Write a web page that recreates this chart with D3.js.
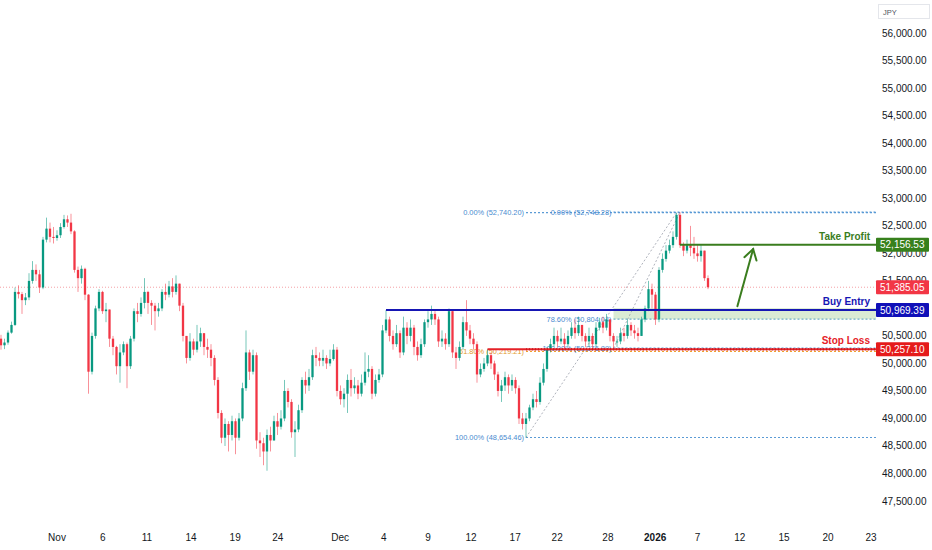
<!DOCTYPE html>
<html><head><meta charset="utf-8">
<script src="https://cdn.jsdelivr.net/npm/d3@7"></script>
<style>body{margin:0;background:#fff;} svg{display:block;font-family:"Liberation Sans",Arial,sans-serif;}</style>
</head><body><svg id="c" width="932" height="550"></svg>
<script>
// ---------- DATA ----------
const firstOpen = 50450;
const closes = [50330,50380,50560,50700,51300,51260,51150,51200,51500,51700,
51620,51380,52250,52450,52300,52280,52330,52480,52620,52560,
52400,51700,51550,51720,51250,49850,50500,51000,51300,50950,
50980,50450,50300,49950,50200,50350,49950,50450,50950,50900,
51100,51300,51100,51050,50950,51000,51300,51250,51400,51300,
51450,51050,50500,50100,50400,50250,50400,50550,50300,50250,
50100,49700,49100,48650,48900,48700,48950,48650,49000,49550,
50200,49850,50150,48600,48550,48400,48700,48600,48950,48850,
49000,49500,49300,48750,48800,49150,49700,49600,49750,50150,
50100,50050,50100,50000,50080,50250,49500,49350,49450,49700,
49550,49600,49450,49650,49850,49900,49450,49700,49800,50600,
50800,50500,50350,50550,50200,50650,50500,50650,50300,50150,
50350,50750,50800,50900,50800,50400,50450,50350,50950,50200,
50100,50300,50750,50600,50450,50350,49800,49900,50000,50150,
50000,49800,49500,49600,49750,49600,49700,49550,49000,48900,
49000,49200,49350,49300,49650,49900,50250,50350,50500,50400,
50450,50350,50500,50650,50550,50700,50500,50400,50500,50350,
50650,50750,50650,50800,50500,50400,50400,50550,50500,50700,
50600,50550,50500,50800,51000,51350,51250,50800,51700,51900,
52050,52150,52300,52700,52150,52050,52150,52100,52000,51950,
52050,51550,51385.05];
const highs = [50520,50450,50600,50760,51380,51420,51300,51280,51640,51860,
51800,51700,52300,52650,52560,52480,52420,52550,52700,52690,
52720,52420,51760,51780,51740,51260,50560,51050,51350,51320,
51100,50980,50500,50320,50350,50400,50380,50500,51000,51100,
51200,51550,51320,51150,51100,51100,51350,51450,51500,51550,
51600,51450,51100,50500,50550,50450,50700,50650,50550,50450,
50350,50150,49750,49150,49000,48950,49050,49000,49100,49650,
50600,50250,50250,50200,48750,48650,48800,48850,49050,49100,
49150,49700,49550,49350,48950,49250,49750,49850,49900,50250,
50300,50200,50250,50150,50250,50350,50300,49600,49550,49800,
49900,49750,49700,49800,50200,50150,49950,49800,49900,50700,
50969.39,50850,50600,50700,50600,50850,50750,50800,50700,50400,
50450,50800,50950,51050,50950,50850,50600,50550,51000,50950,
50300,50400,50850,51150,50700,50550,50400,50000,50100,50257.10,
50200,50050,49850,49700,49850,49800,49800,49750,49600,49100,
49100,49250,49450,49500,49750,50000,50300,50450,50650,50600,
50650,50550,50600,50750,50800,50850,50700,50550,50650,50550,
50750,50830,50850,50900,50800,50550,50500,50650,50650,50800,
50750,50700,50650,50850,51050,51500,51450,51300,51750,52000,
52150,52250,52400,52740.20,52748.28,52200,52250,52500,52300,52150,
52150,52050,51600];
const lows = [50250,50260,50340,50540,50680,51180,50900,51060,51150,51450,
51500,51280,51350,52200,52200,52180,52230,52280,52450,52480,
52350,51650,51300,51450,51150,49450,49800,50450,50950,50900,
50750,50300,50150,49800,49650,50150,49550,49900,50400,50750,
50850,51000,50900,50700,50600,50850,50950,51150,51200,51200,
51250,50950,50400,50000,50050,50150,50200,50300,50150,50100,
49950,49600,49000,48550,48500,48400,48600,48350,48600,48950,
49500,49700,49800,48450,48300,48150,48050,48400,48600,48700,
48800,48950,49200,48650,48300,48750,49100,49450,49500,49700,
49950,49950,49950,49900,49950,50050,49400,49250,49200,49100,
49400,49450,49350,49400,49600,49750,49350,49400,49650,49750,
50550,50400,50250,50300,50100,50150,50350,50400,50150,50050,
50100,50300,50650,50700,50700,50300,50300,50250,50300,50100,
49900,50050,50250,50500,50350,50250,49650,49750,49850,49950,
49900,49700,49400,49300,49500,49450,49500,49450,48900,48800,
48654.46,48950,49150,49200,49250,49600,49850,50200,50300,50300,
50350,50250,50300,50450,50450,50500,50400,50300,50300,50250,
50300,50600,50550,50600,50400,50276.89,50300,50350,50400,50450,
50500,50450,50400,50500,50750,50950,51000,50700,50750,51650,
51850,52000,52100,52250,52100,51950,52000,51950,51900,51850,
51850,51500,51350];

const xTickLabels = ["Nov","6","11","14","19","24","Dec","4","9","12","17","22","28","2026","7","12","15","20","23"];
const xTickIdx = [16,29.1,41.7,54.3,66.9,79.1,96.9,109.4,122,134.3,146.9,158.9,173.4,186.9,199,211.1,223.7,236.3,248.6];
const yTicks = [47500,48000,48500,49000,49500,50000,50500,51000,51500,52000,52500,53000,53500,54000,54500,55000,55500,56000];

const levelNames = ["Take Profit","Buy Entry","Stop Loss"];
const levelValues = [52156.53, 50969.39, 50257.10];
const levelStartIdx = [194, 110, 139];
const lastPrice = 51385.05;

const fib1Idx = [150, 193];
const fib1Labels = ["0.00%","61.80%","100.00%"];
const fib1Prices = [52740.20, 50219.21, 48654.46];
const fib2Idx = [175, 194];
const fib2Labels = ["0.00%","78.60%","100.00%"];
const fib2Prices = [52748.28, 50804.04, 50276.89];
const fib2Band = [51005.9, 50804.04];

const arrowIdx = [210.4, 214.9];
const arrowPrices = [51040, 52080];

// ---------- DRAW ----------
const svg = d3.select("#c");
const plotRight = 876;
const x = d3.scaleLinear().domain([0, 250]).range([1, plotRight]);
const y = d3.scaleLinear().domain([47500, 56000]).range([501, 33.3]);
const fmt = d3.format(",.2f");

const data = closes.map((c, i) => {
  const o = i === 0 ? firstOpen : closes[i - 1];
  return {i, o, c, h: Math.max(highs[i], o, c), l: Math.min(lows[i], o, c)};
});

const GREEN = "#089981", RED = "#f23645";
const FIBBLUE = "#5b9bd5";

// fib band
svg.append("rect")
  .attr("x", x(fib2Idx[0])).attr("width", plotRight - x(fib2Idx[0]))
  .attr("y", y(fib2Band[0])).attr("height", y(fib2Band[1]) - y(fib2Band[0]))
  .attr("fill", "#d4e8cc").attr("opacity", 0.85);

// fib lines
const fibG = svg.append("g");
function fibLines(idx, prices, colors) {
  prices.forEach((p, k) => {
    fibG.append("line")
      .attr("x1", x(idx[0])).attr("x2", plotRight)
      .attr("y1", y(p)).attr("y2", y(p))
      .attr("stroke", colors[k]).attr("stroke-width", 1.2)
      .attr("stroke-dasharray", "2,2");
  });
  fibG.append("line")
    .attr("x1", x(idx[0])).attr("y1", y(prices[prices.length - 1]))
    .attr("x2", x(idx[1])).attr("y2", y(prices[0]))
    .attr("stroke", "#9aa0ab").attr("stroke-width", 0.8)
    .attr("stroke-dasharray", "2,2");
}
fibLines(fib1Idx, fib1Prices, [FIBBLUE, "#f0a030", FIBBLUE]);
fibLines(fib2Idx, fib2Prices, [FIBBLUE, "#6fb0c8", FIBBLUE]);

function fibText(idx, labels, prices, colors) {
  labels.forEach((lab, k) => {
    fibG.append("text")
      .attr("x", x(idx[0]) - 2).attr("y", y(prices[k]))
      .attr("text-anchor", "end").attr("dominant-baseline", "central")
      .attr("font-size", 7.4).attr("fill", colors[k])
      .text(lab + " (" + fmt(prices[k]) + ")");
  });
}
fibText(fib1Idx, fib1Labels, fib1Prices, ["#4a8bd0", "#e39a2b", "#4a8bd0"]);
fibText(fib2Idx, fib2Labels, fib2Prices, ["#4a8bd0", "#4a8bd0", "#4a8bd0"]);

// last price dotted line
svg.append("line")
  .attr("x1", 0).attr("x2", plotRight)
  .attr("y1", y(lastPrice)).attr("y2", y(lastPrice))
  .attr("stroke", "#f4a0a6").attr("stroke-width", 1)
  .attr("stroke-dasharray", "1,2");

// candles
const bw = 2.3;
const cg = svg.append("g");
cg.selectAll("line.w").data(data).join("line")
  .attr("x1", d => x(d.i)).attr("x2", d => x(d.i))
  .attr("y1", d => y(d.h)).attr("y2", d => y(d.l))
  .attr("stroke", d => d.c >= d.o ? GREEN : RED)
  .attr("stroke-opacity", 0.55).attr("stroke-width", 1);
cg.selectAll("rect").data(data).join("rect")
  .attr("x", d => x(d.i) - bw / 2).attr("width", bw)
  .attr("y", d => y(Math.max(d.o, d.c)))
  .attr("height", d => Math.max(1, Math.abs(y(d.o) - y(d.c))))
  .attr("fill", d => d.c >= d.o ? GREEN : RED);

// level lines
const levelColors = ["#3a7d1e", "#1616b4", "#e52228"];
levelValues.forEach((v, k) => {
  svg.append("line")
    .attr("x1", x(levelStartIdx[k])).attr("x2", plotRight)
    .attr("y1", y(v)).attr("y2", y(v))
    .attr("stroke", levelColors[k]).attr("stroke-width", 2);
  svg.append("text")
    .attr("x", 870).attr("y", y(v) - 5)
    .attr("text-anchor", "end").attr("font-size", 10).attr("font-weight", "bold")
    .attr("fill", levelColors[k]).text(levelNames[k]);
});
// stop loss overlay pattern
svg.append("line")
  .attr("x1", x(fib1Idx[0])).attr("x2", plotRight)
  .attr("y1", y(levelValues[2])).attr("y2", y(levelValues[2]))
  .attr("stroke", "#c8141a").attr("stroke-width", 2.6)
  .attr("stroke-dasharray", "1,2").attr("opacity", 0.7);

// arrow
const ax1 = x(arrowIdx[0]), ay1 = y(arrowPrices[0]), ax2 = x(arrowIdx[1]), ay2 = y(arrowPrices[1]);
const ang = Math.atan2(ay2 - ay1, ax2 - ax1);
const hl = 12, ha = 0.55;
const ag = svg.append("g").attr("stroke", "#3a7d1e").attr("stroke-width", 2).attr("fill", "none")
  .attr("stroke-linecap", "round");
ag.append("line").attr("x1", ax1).attr("y1", ay1).attr("x2", ax2).attr("y2", ay2);
ag.append("polyline").attr("points", [
  [ax2 - hl * Math.cos(ang - ha), ay2 - hl * Math.sin(ang - ha)],
  [ax2, ay2],
  [ax2 - hl * Math.cos(ang + ha), ay2 - hl * Math.sin(ang + ha)]
].map(p => p.join(",")).join(" "));

// price tags values
const tagValues = [levelValues[0], lastPrice, levelValues[1], levelValues[2]];
const tagColors = ["#37801c", "#f23645", "#1010b8", "#e51b1b"];

// y axis labels (labels fully covered by a tag are hidden, as on the reference)
const visibleTicks = yTicks.filter(t => tagValues.every(v => Math.abs(y(t) - y(v)) > 4));
svg.append("g").selectAll("text").data(visibleTicks).join("text")
  .attr("x", 882).attr("y", d => y(d)).attr("dominant-baseline", "central")
  .attr("font-size", 10).attr("fill", "#131722").text(d => fmt(d));

// price tags
tagValues.forEach((v, k) => {
  svg.append("rect").attr("x", 876).attr("y", y(v) - 7).attr("width", 53).attr("height", 14)
    .attr("rx", 1).attr("fill", tagColors[k]);
  svg.append("text").attr("x", 880).attr("y", y(v)).attr("dominant-baseline", "central")
    .attr("font-size", 10).attr("fill", "#fff").text(fmt(v));
});

// JPY box
svg.append("rect").attr("x", 878.5).attr("y", 4.5).attr("width", 51).attr("height", 14)
  .attr("fill", "#fff").attr("stroke", "#e4e6eb");
svg.append("text").attr("x", 883).attr("y", 12).attr("dominant-baseline", "central")
  .attr("font-size", 7.5).attr("fill", "#50535e").text("JPY");

// x axis labels
svg.append("g").selectAll("text").data(xTickLabels).join("text")
  .attr("x", (d, k) => x(xTickIdx[k])).attr("y", 537)
  .attr("text-anchor", "middle").attr("dominant-baseline", "central")
  .attr("font-size", 10).attr("fill", "#131722")
  .attr("font-weight", d => d === "2026" ? "bold" : "normal")
  .text(d => d);
</script></body></html>
